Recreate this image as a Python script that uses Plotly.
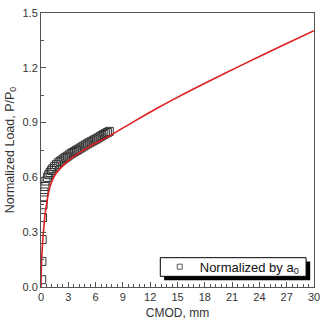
import plotly.graph_objects as go

# Measured data (squares)
cmod_data = [0.08, 0.10, 0.13, 0.17, 0.22, 0.27, 0.33, 0.43, 0.54, 0.70, 0.85, 1.00, 1.15, 1.30,
             1.50, 1.70, 1.90, 2.10, 2.30, 2.50, 2.70, 2.90, 3.10, 3.30, 3.50, 3.70, 3.90, 4.10,
             4.30, 4.50, 4.70, 4.90, 5.10, 5.30, 5.50, 5.70, 5.90, 6.10, 6.30, 6.50, 6.70, 6.90,
             7.10, 7.30, 7.50]
load_data = [0.04, 0.14, 0.26, 0.38, 0.45, 0.49, 0.52, 0.55, 0.58, 0.600, 0.615, 0.627, 0.638, 0.648,
             0.660, 0.670, 0.680, 0.688, 0.695, 0.702, 0.709, 0.716, 0.723, 0.730, 0.736, 0.742, 0.748, 0.754,
             0.760, 0.766, 0.772, 0.778, 0.784, 0.790, 0.795, 0.800, 0.806, 0.811, 0.817, 0.823, 0.829, 0.835,
             0.841, 0.846, 0.852]

# Fitted curve (red line)
cmod_fit = [0, 0.02, 0.05, 0.1, 0.2, 0.3, 0.45, 0.6, 0.8, 1.0, 1.3, 1.7, 2.4, 3.2, 4.2, 5.5, 7.4,
            10, 12.8, 16, 20, 24, 27, 30]
load_fit = [0, 0.06, 0.12, 0.18, 0.26, 0.32, 0.40, 0.45, 0.51, 0.55, 0.59, 0.625, 0.663, 0.70, 0.734,
            0.775, 0.823, 0.900, 0.980, 1.065, 1.165, 1.262, 1.333, 1.403]

x_ticks = [0, 3, 6, 9, 12, 15, 18, 21, 24, 27, 30]
y_ticks = [0.0, 0.3, 0.6, 0.9, 1.2, 1.5]

fig = go.Figure()
fig.add_trace(go.Scatter(
    x=cmod_data, y=load_data, mode="markers", showlegend=False,
    marker=dict(symbol="square-open", size=8, color="#333333", line=dict(width=1)),
))
# legend entry (small square symbol as in the reference)
fig.add_trace(go.Scatter(
    x=[None], y=[None], mode="markers", name="Normalized by a<sub>0</sub>",
    marker=dict(symbol="square-open", size=5, color="#555555", line=dict(width=1)),
))
fig.add_trace(go.Scatter(
    x=cmod_fit, y=load_fit, mode="lines", showlegend=False,
    line=dict(color="#e02020", width=1.6, shape="spline", smoothing=0.5),
))

font = dict(family="Liberation Sans, Arial, sans-serif", size=11, color="#333333")

fig.update_layout(
    width=327, height=327,
    margin=dict(l=41, r=7, t=7, b=40),
    paper_bgcolor="white", plot_bgcolor="white",
    font=font,
    showlegend=True,
    legend=dict(x=0.435, y=0.074, xanchor="left", yanchor="middle",
                bgcolor="rgba(0,0,0,0)", borderwidth=0,
                font=dict(family="Liberation Sans, Arial, sans-serif", size=13, color="#111111"),
                itemwidth=30, tracegroupgap=0),
    xaxis=dict(range=[0, 30], tickvals=x_ticks, ticks="inside", ticklen=5, tickcolor="#555555",
               showline=True, linecolor="#555555", linewidth=1, mirror=True, showgrid=False,
               zeroline=False,
               minor=dict(dtick=0.6, ticks="inside", ticklen=3, tickcolor="#555555", showgrid=False),
               title=dict(text="CMOD, mm", font=dict(size=12, color="#333333"), standoff=6)),
    yaxis=dict(range=[0, 1.5], tickvals=y_ticks, ticktext=[f"{v:.1f}" for v in y_ticks],
               ticks="inside", ticklen=5, tickcolor="#555555",
               showline=True, linecolor="#555555", linewidth=1, mirror=True, showgrid=False,
               zeroline=False,
               minor=dict(dtick=0.15, ticks="inside", ticklen=3, tickcolor="#555555", showgrid=False),
               title=dict(text="Normalized Load, P/P<sub>0</sub>", font=dict(size=12.5, color="#333333"),
                          standoff=5)),
)

# legend drop shadow and framed box
fig.add_shape(type="rect", xref="paper", yref="paper", x0=0.451, x1=0.986, y0=0.025, y1=0.093,
              fillcolor="black", line=dict(width=0), layer="above")
fig.add_shape(type="rect", xref="paper", yref="paper", x0=0.437, x1=0.971, y0=0.039, y1=0.107,
              fillcolor="white", line=dict(color="black", width=1), layer="above")

fig.write_html("out.html")
